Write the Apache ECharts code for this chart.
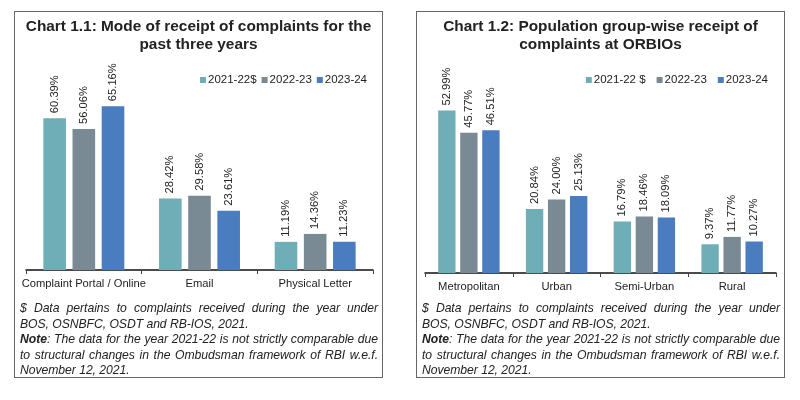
<!DOCTYPE html>
<html>
<head>
<meta charset="utf-8">
<script src="https://cdn.jsdelivr.net/npm/echarts@6/dist/echarts.min.js"></script>
<style>
  html, body { margin: 0; padding: 0; background: #fff; }
  body { width: 800px; height: 400px; position: relative; font-family: 'Liberation Sans', Arial, sans-serif; }
  .panel { position: absolute; top: 11px; width: 367px; height: 365px; border: 1px solid #666; }
  .chart { position: absolute; left: 0; top: 0; width: 367px; height: 365px; }
  .note { position: absolute; left: 5px; width: 358px; top: 289px; font-style: italic; font-size: 12.2px; letter-spacing: -0.05px; line-height: 15.6px; color: #222; }
  .note div { white-space: nowrap; }
  .note .j { text-align: justify; text-align-last: justify; white-space: normal; }
</style>
</head>
<body>
<div class="panel" style="left:14px">
  <div class="chart" id="chart1"></div>
  <div class="note">
    <div class="j">$ Data pertains to complaints received during the year under</div>
    <div>BOS, OSNBFC, OSDT and RB-IOS, 2021.</div>
    <div class="j"><b>Note</b>: The data for the year 2021-22 is not strictly comparable due</div>
    <div class="j">to structural changes in the Ombudsman framework of RBI w.e.f.</div>
    <div>November 12, 2021.</div>
  </div>
</div>
<div class="panel" style="left:416px">
  <div class="chart" id="chart2"></div>
  <div class="note">
    <div class="j">$ Data pertains to complaints received during the year under</div>
    <div>BOS, OSNBFC, OSDT and RB-IOS, 2021.</div>
    <div class="j"><b>Note</b>: The data for the year 2021-22 is not strictly comparable due</div>
    <div class="j">to structural changes in the Ombudsman framework of RBI w.e.f.</div>
    <div>November 12, 2021.</div>
  </div>
</div>
<script>
// 資料
const modeCategories = ['Complaint Portal / Online', 'Email', 'Physical Letter'];
const mode2122 = [60.39, 28.42, 11.19];
const mode2223 = [56.06, 29.58, 14.36];
const mode2324 = [65.16, 23.61, 11.23];
const modeLegend = ['2021-22$', '2022-23', '2023-24'];

const popCategories = ['Metropolitan', 'Urban', 'Semi-Urban', 'Rural'];
const pop2122 = [52.99, 20.84, 16.79, 9.37];
const pop2223 = [45.77, 24.00, 18.46, 11.77];
const pop2324 = [46.51, 25.13, 18.09, 10.27];
const popLegend = ['2021-22 $', '2022-23', '2023-24'];

const colors = ['#6FADB7', '#7A8A94', '#4A7DBF'];
const font = "'Liberation Sans', Arial, sans-serif";

// 封裝柱狀圖
const Bar = (element, cfg) => {
  const chart = echarts.init(element);
  const series = cfg.values.map((data, i) => ({
    name: cfg.legend[i],
    type: 'bar',
    data,
    barGap: cfg.barGap,
    barCategoryGap: cfg.catGap,
    itemStyle: { color: colors[i] },
    label: {
      show: true,
      position: 'top',
      rotate: 90,
      align: 'left',
      verticalAlign: 'middle',
      distance: 5,
      fontFamily: font,
      fontSize: 11.2,
      color: '#222',
      formatter: p => p.value.toFixed(2) + '%',
    },
  }));
  chart.setOption({
    animation: false,
    textStyle: { fontFamily: font },
    title: {
      text: cfg.title,
      left: 'center',
      top: 1,
      textStyle: { fontFamily: font, fontSize: 15.4, fontWeight: 'bold', color: '#222', lineHeight: 18 },
    },
    legend: {
      right: cfg.legendRight,
      top: 57,
      icon: 'rect',
      itemWidth: 6,
      itemHeight: 6,
      itemGap: cfg.legendGap,
      textStyle: { fontFamily: font, fontSize: 11.5, color: '#222', padding: [0, 0, 0, -3] },
    },
    grid: cfg.grid,
    xAxis: {
      type: 'category',
      data: cfg.categories,
      axisLine: { lineStyle: { color: '#111', width: 1.5 } },
      axisTick: { show: true, length: 4, lineStyle: { color: '#444' } },
      axisLabel: { fontFamily: font, fontSize: 11.2, color: '#222', margin: 8, interval: 0 },
    },
    yAxis: { type: 'value', min: 0, max: cfg.max, show: false },
    series,
  });
  return chart;
};

Bar(document.getElementById('chart1'), {
  title: 'Chart 1.1: Mode of receipt of complaints for the\npast three years',
  categories: modeCategories,
  values: [mode2122, mode2223, mode2324],
  legend: modeLegend,
  legendRight: 10,
  legendGap: 5,
  max: 70,
  barGap: '29%',
  catGap: '30%',
  grid: { left: 11, right: 9, top: 82, bottom: 107 },
});

Bar(document.getElementById('chart2'), {
  title: 'Chart 1.2: Population group-wise receipt of\ncomplaints at ORBIOs',
  categories: popCategories,
  values: [pop2122, pop2223, pop2324],
  legend: popLegend,
  legendRight: 11,
  legendGap: 11,
  max: 60,
  barGap: '27%',
  catGap: '30%',
  grid: { left: 8, right: 8, top: 77, bottom: 104 },
});
</script>
</body>
</html>
